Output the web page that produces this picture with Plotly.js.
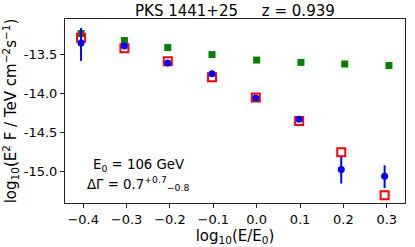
<!DOCTYPE html>
<html><head><meta charset="utf-8">
<script src="https://cdn.plot.ly/plotly-3.0.1.min.js"></script>
<style>html,body{margin:0;padding:0;background:#fff}</style>
</head><body><div id="chart" style="width:415px;height:247px"></div>
<script>
var greenX = [-0.405,-0.305,-0.205,-0.103,0.0,0.102,0.203,0.305];
var greenY = [-13.23,-13.32,-13.41,-13.50,-13.57,-13.60,-13.62,-13.64];
var redX = [-0.405,-0.305,-0.205,-0.103,-0.002,0.098,0.195,0.295];
var redY = [-13.285,-13.42,-13.586,-13.79,-14.05,-14.35,-14.75,-15.30];
var blueX = [-0.405,-0.305,-0.205,-0.103,-0.002,0.098,0.195,0.295];
var blueY = [-13.35,-13.39,-13.607,-13.744,-14.057,-14.327,-14.97,-15.058];
var blueErrUp = [0.19,0.03,0.02,0.02,0.03,0.03,0.16,0.14];
var blueErrDn = [0.23,0.03,0.02,0.03,0.03,0.03,0.18,0.15];
var xTickVals = [-0.4,-0.3,-0.2,-0.1,0.0,0.1,0.2,0.3];
var xTickText = ['\u22120.4','\u22120.3','\u22120.2','\u22120.1','0.0','0.1','0.2','0.3'];
var yTickVals = [-13.5,-14.0,-14.5,-15.0];
var yTickText = ['-13.5','-14.0','-14.5','-15.0'];

var traces = [
 {x: greenX, y: greenY, mode:'markers', type:'scatter',
  marker:{symbol:'square', size:7, color:'#008000', line:{width:0}}},
 {x: redX, y: redY, mode:'markers', type:'scatter',
  marker:{symbol:'square-open', size:8, color:'#ff0000', line:{width:2, color:'#ff0000'}}},
 {x: blueX, y: blueY, mode:'markers', type:'scatter',
  error_y:{type:'data', symmetric:false, array: blueErrUp, arrayminus: blueErrDn, color:'#0000ff', thickness:2, width:0},
  marker:{symbol:'circle', size:7, color:'#0000ff'}}
];
var layout = {
 width:415, height:247, showlegend:false,
 margin:{l:65, r:10, t:19, b:44},
 paper_bgcolor:'#fff', plot_bgcolor:'#fff',
 font:{family:'DejaVu Sans', size:12.5, color:'#000'},
 title:{text:'PKS 1441+25\u00a0\u00a0\u00a0\u00a0\u00a0z = 0.939', font:{size:15}, x:0.566, xanchor:'center', y:0.955, yanchor:'middle'},
 xaxis:{range:[-0.442,0.342], tickvals:xTickVals, ticktext:xTickText, ticks:'outside', ticklen:4, tickcolor:'#262626',
   tickfont:{size:13},
   showline:true, linecolor:'#262626', linewidth:1, mirror:true, showgrid:false, zeroline:false,
   title:{text:'log<sub>10</sub>(E/E<sub>0</sub>)', standoff:2}},
 yaxis:{range:[-15.40,-13.044], tickvals:yTickVals, ticktext:yTickText, ticks:'outside', ticklen:4, tickcolor:'#262626',
   tickfont:{size:13},
   showline:true, linecolor:'#262626', linewidth:1, mirror:true, showgrid:false, zeroline:false,
   title:{text:'log<sub>10</sub>(E<sup>2</sup> F / TeV cm<sup>\u22122</sup>s<sup>\u22121</sup>)', standoff:3}},
 annotations:[
  {xref:'paper', yref:'paper', x:0.075, y:0.205, xanchor:'left', yanchor:'middle', showarrow:false,
   text:'E<sub>0</sub> = 106 GeV', font:{size:13.3}},
  {xref:'paper', yref:'paper', x:0.06, y:0.105, xanchor:'left', yanchor:'middle', showarrow:false,
   text:'\u0394\u0393 = 0.7<sup>+0.7</sup><sub>\u22120.8</sub>', font:{size:13.3}}
 ]
};
Plotly.newPlot('chart', traces, layout, {displayModeBar:false, staticPlot:true});
</script></body></html>
